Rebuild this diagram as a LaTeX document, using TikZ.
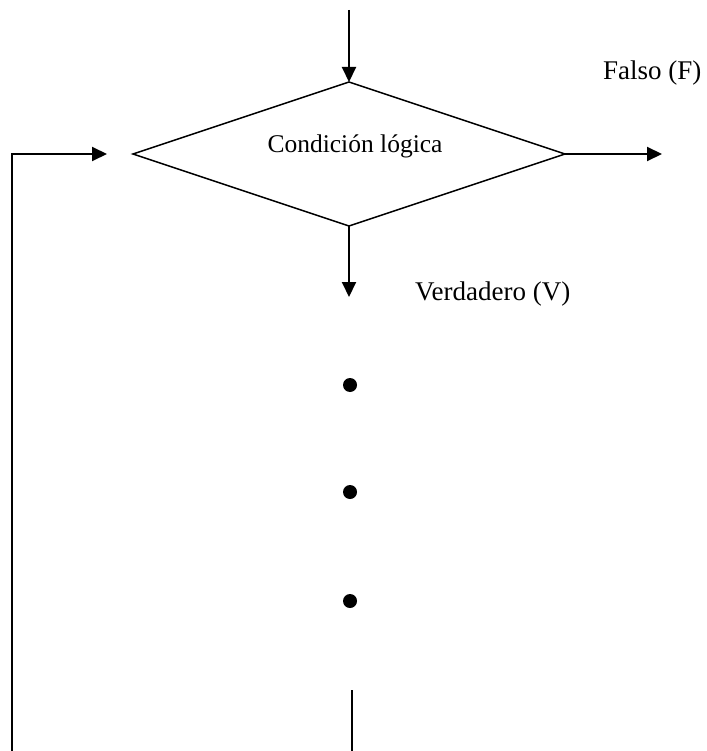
\documentclass[tikz,border=0pt]{standalone}
\usepackage{fontspec}
\setmainfont{Liberation Serif}
\usetikzlibrary{arrows.meta,shapes.geometric}
\begin{document}
\begin{tikzpicture}[x=1pt,y=-1pt,
  flow/.style={line width=2pt,-{Triangle[length=15pt,width=14pt]}},
  plain/.style={line width=2pt},
  decision/.style={draw,diamond,line width=1.5pt,inner sep=0pt,outer sep=0pt,
    minimum width=432pt,minimum height=144pt},
  lbl/.style={inner sep=0pt,font=\fontsize{27}{32}\selectfont},
  dotmark/.style={circle,fill=black,inner sep=0pt,minimum size=14pt}]
  \useasboundingbox (0,0) rectangle (706,751);

  % decision shape and its text
  \node[decision] (cond) at (349,154) {};
  \node[lbl,anchor=base,font=\fontsize{25.5}{30}\selectfont] (condtext) at (355,153) {Condición lógica};

  % free ends of the connectors
  \coordinate (entry) at (349,10);
  \coordinate (falseend) at (662,154);
  \coordinate (trueend) at (349,297);
  \coordinate (loopbottom) at (12,751);
  \coordinate (loopcorner) at (12,154);
  \coordinate (loopend) at (107,154);
  \coordinate (tailtop) at (352,690);
  \coordinate (tailbottom) at (352,751);

  % branch labels
  \node[lbl,anchor=base west] (falso) at (603,80) {Falso (F)};
  \node[lbl,anchor=base west] (verdadero) at (415,300) {Verdadero (V)};

  % connectors
  \draw[flow] (entry) -- (cond.north);
  \draw[flow] (cond.east) -- (falseend);
  \draw[flow] (cond.south) -- (trueend);
  \draw[flow] (loopbottom) -- (loopcorner) -- (loopend);
  \draw[plain] (tailtop) -- (tailbottom);

  % continuation dots
  \node[dotmark] (d1) at (350,385) {};
  \node[dotmark] (d2) at (350,492) {};
  \node[dotmark] (d3) at (350,601) {};
\end{tikzpicture}
\end{document}
